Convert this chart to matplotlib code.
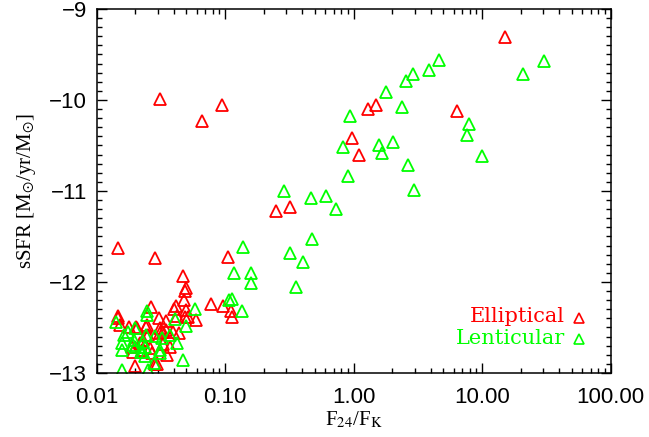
import numpy as np
import matplotlib
matplotlib.use('Agg')
import matplotlib.pyplot as plt
from matplotlib.ticker import FixedLocator, MultipleLocator, FormatStrFormatter


# F24/FK ratio and specific SFR for the elliptical sample
ell_ratio = [15.1, 6.42, 1.50, 1.29, 0.98, 1.10, 0.248, 0.32, 0.0314, 0.0942,
             0.0666, 0.0148, 0.0285, 0.105, 0.0474, 0.0494, 0.049, 0.0476, 0.0418, 0.0400,
             0.0266, 0.0494, 0.0774, 0.096, 0.111, 0.113, 0.0147, 0.0152, 0.0203, 0.0243,
             0.0305, 0.0347, 0.049, 0.0518, 0.0595, 0.0188, 0.0191, 0.0200, 0.0294, 0.0356,
             0.0373, 0.0231, 0.018, 0.0208, 0.031, 0.0246, 0.0253, 0.0312, 0.033, 0.0218,
             0.0225, 0.0261, 0.0269, 0.0285, 0.035, 0.0395, 0.044, 0.033, 0.0425, 0.0148]
ell_ssfr = [-9.31, -10.12, -10.05, -10.10, -10.42, -10.60, -11.22, -11.18, -9.985, -10.055,
            -10.23, -11.63, -11.74, -11.73, -11.93, -12.07, -12.10, -12.20, -12.26, -12.30,
            -12.28, -12.31, -12.24, -12.26, -12.32, -12.38, -12.37, -12.47, -12.50, -12.49,
            -12.40, -12.43, -12.38, -12.38, -12.42, -12.72, -12.77, -12.92, -12.90, -12.80,
            -12.71, -12.64, -12.50, -12.51, -12.51, -12.47, -12.58, -12.56, -12.55, -12.67,
            -12.75, -12.73, -12.78, -12.90, -12.53, -12.55, -12.56, -12.68, -12.37, -12.40]

# same quantities for the lenticular sample
len_ratio = [30.2, 20.7, 4.60, 3.87, 2.89, 2.56, 1.79, 2.37, 0.944, 7.88,
             7.6, 10.07, 2.02, 1.59, 1.68, 0.824, 2.65, 0.906, 2.97, 0.288,
             0.464, 0.615, 0.731, 0.478, 0.319, 0.405, 0.357, 0.138, 0.1175, 0.158,
             0.159, 0.107, 0.113, 0.135, 0.0584, 0.0246, 0.0249, 0.0408, 0.0141, 0.0176,
             0.0200, 0.0243, 0.0287, 0.0322, 0.0373, 0.0497, 0.0159, 0.0158, 0.0196, 0.0200,
             0.0223, 0.0238, 0.0420, 0.0312, 0.0474, 0.0282, 0.0157, 0.0253, 0.0231, 0.0238,
             0.0228, 0.0312, 0.0194, 0.0164]
len_ssfr = [-9.575, -9.714, -9.56, -9.674, -9.711, -9.79, -9.909, -10.08, -10.18, -10.26,
            -10.385, -10.62, -10.46, -10.49, -10.58, -10.52, -10.72, -10.84, -10.99, -10.997,
            -11.08, -11.06, -11.20, -11.53, -11.68, -11.78, -12.05, -11.62, -11.90, -11.90,
            -12.01, -12.20, -12.19, -12.32, -12.30, -12.32, -12.36, -12.41, -12.44, -12.55,
            -12.51, -12.58, -12.59, -12.62, -12.58, -12.48, -12.67, -12.75, -12.64, -12.71,
            -12.77, -12.81, -12.67, -12.78, -12.86, -12.89, -12.97, -12.97, -12.66, -12.71,
            -12.77, -12.75, -12.69, -12.58]

x_ticks = [0.01, 0.1, 1, 10, 100]
y_ticks = [-13, -12, -11, -10, -9]

plt.rcParams['mathtext.fontset'] = 'stix'

RED = '#ff0000'
GREEN = '#00ff00'

fig = plt.figure(figsize=(6.49, 4.37), dpi=100)
ax = fig.add_axes([0.1487, 0.1465, 0.792, 0.833])

ax.plot(ell_ratio, ell_ssfr, ls='none', marker='^', ms=8, mfc='none',
        mec=RED, mew=1.3)
ax.plot(len_ratio, len_ssfr, ls='none', marker='^', ms=8, mfc='none',
        mec=GREEN, mew=1.3)

ax.set_xscale('log')
ax.set_xlim(0.01, 100)
ax.set_ylim(-13, -9)

ax.xaxis.set_major_locator(FixedLocator(x_ticks))
ax.xaxis.set_major_formatter(FormatStrFormatter('%.2f'))
ax.set_yticks(y_ticks)
ax.set_yticklabels(['\u2212%d' % abs(v) for v in y_ticks])
ax.yaxis.set_minor_locator(MultipleLocator(0.1))

for lbl in ax.get_xticklabels() + ax.get_yticklabels():
    lbl.set_fontfamily('Liberation Sans')
    lbl.set_fontsize(16)

ax.tick_params(which='both', direction='in', top=True, right=True, width=1.0)
ax.tick_params(which='major', length=7.5)
ax.tick_params(which='minor', length=3.8)
ax.tick_params(axis='x', which='major', pad=10)
ax.tick_params(axis='y', which='major', pad=7)
for s in ax.spines.values():
    s.set_linewidth(1.1)

ax.set_xlabel(r'F$_{24}$/F$_{\mathrm{K}}$', fontsize=15, family='Liberation Serif',
              labelpad=1)
ax.set_ylabel(r'sSFR [M$_{\odot}$/yr/M$_{\odot}$]', fontsize=15,
              family='Liberation Serif', labelpad=8)

# legend written as plain coloured text with a marker after it
ax.text(0.911, 0.154, 'Elliptical', color=RED, fontsize=15, family='DejaVu Serif',
        ha='right', va='center', transform=ax.transAxes)
ax.text(0.911, 0.096, 'Lenticular', color=GREEN, fontsize=15, family='DejaVu Serif',
        ha='right', va='center', transform=ax.transAxes)
ax.plot([0.939], [0.152], transform=ax.transAxes, ls='none', marker='^', ms=6.5,
        mfc='none', mec=RED, mew=1.2, clip_on=False)
ax.plot([0.939], [0.094], transform=ax.transAxes, ls='none', marker='^', ms=6.5,
        mfc='none', mec=GREEN, mew=1.2, clip_on=False)

fig.savefig('out.png', dpi=100)
